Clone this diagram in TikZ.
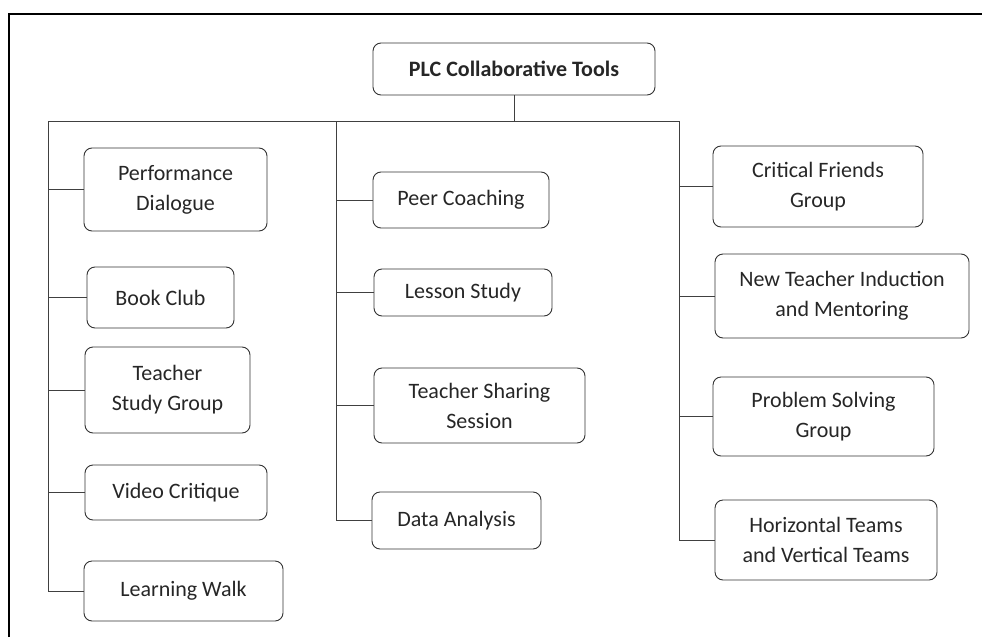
\documentclass[tikz,border=0pt]{standalone}
\usepackage{fontspec}
\setmainfont{Carlito}
\usepackage{tikz}
\tikzset{
	tool/.style={draw=black!80, line width=0.9pt, rounded corners=8pt, align=center, inner sep=0pt, text=black!85},
	link/.style={draw=black!75, line width=0.9pt}
}

\begin{document}
\begin{tikzpicture}[x=1pt, y=-1pt, font=\fontsize{22}{30}\selectfont]
	\useasboundingbox (0,0) rectangle (982,637);
	\draw[line width=1.6pt] (9,637) -- (9,14) -- (982,14);
	% root
	\node[tool, minimum width=282pt, minimum height=52pt, font=\fontsize{22}{30}\selectfont\bfseries] (root) at (514,69) {PLC Collaborative Tools};
	% left column
	\node[tool, minimum width=183pt, minimum height=83pt] (perf) at (175.5,189.5) {Performance\\Dialogue};
	\node[tool, minimum width=147pt, minimum height=61pt] (book) at (160.5,297.5) {Book Club};
	\node[tool, minimum width=165pt, minimum height=86pt] (tsg) at (167.5,390) {Teacher\\Study Group};
	\node[tool, minimum width=182pt, minimum height=55pt] (video) at (176,492.5) {Video Critique};
	\node[tool, minimum width=199pt, minimum height=60pt] (walk) at (183.5,591) {Learning Walk};
	% middle column
	\node[tool, minimum width=176pt, minimum height=56pt] (peer) at (461,200) {Peer Coaching};
	\node[tool, minimum width=178pt, minimum height=47pt] (lesson) at (463,292.5) {Lesson Study};
	\node[tool, minimum width=211pt, minimum height=75pt] (share) at (479.5,405.5) {Teacher Sharing\\Session};
	\node[tool, minimum width=169pt, minimum height=57pt] (data) at (456.5,520.5) {Data Analysis};
	% right column
	\node[tool, minimum width=210pt, minimum height=81pt] (crit) at (818,186.5) {Critical Friends\\Group};
	\node[tool, minimum width=254pt, minimum height=84pt] (newt) at (842,296) {New Teacher Induction\\and Mentoring};
	\node[tool, minimum width=221pt, minimum height=79pt] (prob) at (823.5,416.5) {Problem Solving\\Group};
	\node[tool, minimum width=222pt, minimum height=80pt] (horiz) at (826,540) {Horizontal Teams\\and Vertical Teams};
	% bus
	\coordinate (busL) at (48,121);
	\coordinate (busM) at (336,121);
	\coordinate (busR) at (679,121);
	\draw[link] (root.south) -- (root.south |- busL);
	\draw[link] (busL) -- (busR);
	\draw[link] (busL) |- (walk.west);
	\draw[link] (busM) |- (data.west);
	\draw[link] (busR) |- (horiz.west);
	\foreach \n in {perf, book, tsg, video}
		\draw[link] (busL |- \n.west) -- (\n.west);
	\foreach \n in {peer, lesson, share}
		\draw[link] (busM |- \n.west) -- (\n.west);
	\foreach \n in {crit, newt, prob}
		\draw[link] (busR |- \n.west) -- (\n.west);
\end{tikzpicture}
\end{document}
